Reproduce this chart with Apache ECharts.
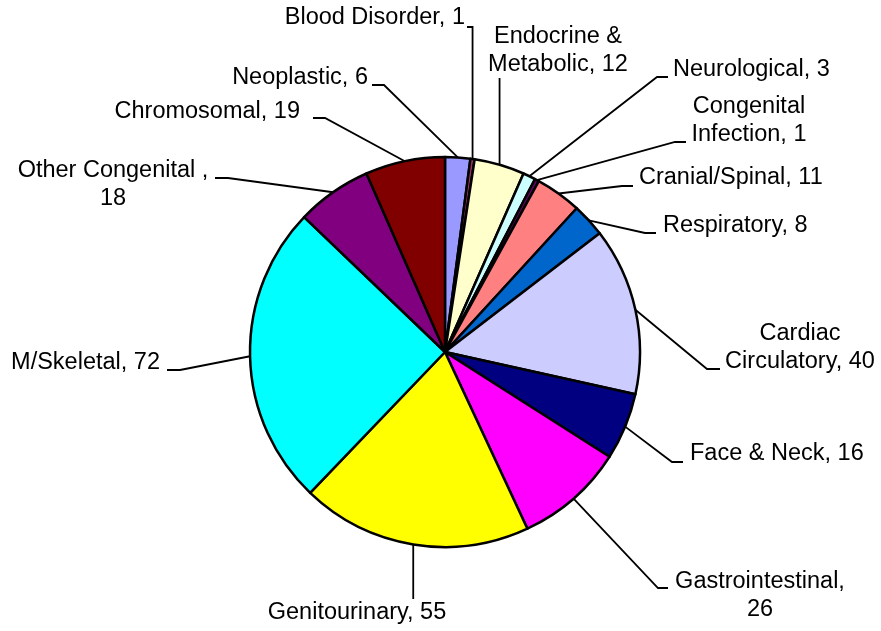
<!DOCTYPE html>
<html>
<head>
<meta charset="utf-8">
<script src="https://cdn.jsdelivr.net/npm/echarts@6/dist/echarts.min.js"></script>
<style>
  html, body { margin: 0; padding: 0; background: #fff; }
  #chart { width: 881px; height: 631px; }
</style>
</head>
<body>
<div id="chart"></div>
<script>
// data, clockwise from 12 o'clock
var categories = ["Neoplastic", "Blood Disorder", "Endocrine & Metabolic", "Neurological",
  "Congenital Infection", "Cranial/Spinal", "Respiratory", "Cardiac Circulatory",
  "Face & Neck", "Gastrointestinal", "Genitourinary", "M/Skeletal",
  "Other Congenital ", "Chromosomal"];
var counts = [6, 1, 12, 3, 1, 11, 8, 40, 16, 26, 55, 72, 18, 19];

var colors = ["#9999FF", "#993366", "#FFFFCC", "#CCFFFF", "#660066", "#FF8080", "#0066CC",
  "#CCCCFF", "#000080", "#FF00FF", "#FFFF00", "#00FFFF", "#800080", "#800000"];

// where each label sits, excel style (text anchor + leader line bends)
// a null x in a line point means "straight up/down from the slice edge"
var labelPos = [
  { x: 368, y: 78, align: "right", line: [[384, 85], [372, 85]] },
  { x: 465, y: 18, align: "right", line: [[null, 27], [467, 27]] },
  { x: 558, y: 51, align: "center", brk: "Endocrine & ", line: [[null, 78]] },
  { x: 673, y: 70, align: "left", line: [[657, 77], [668, 77]] },
  { x: 749, y: 121, align: "center", brk: "Congenital ", line: [[675, 142], [686, 142]] },
  { x: 639, y: 178, align: "left", line: [[622, 186], [633, 186]] },
  { x: 663, y: 226, align: "left", line: [[645, 233], [656, 233]] },
  { x: 800, y: 348, align: "center", brk: "Cardiac ", line: [[707, 369], [720, 369]] },
  { x: 690, y: 454, align: "left", line: [[672, 462], [683, 462]] },
  { x: 760, y: 596, align: "center", brk: "Gastrointestinal, ", line: [[658, 588], [668, 588]] },
  { x: 357, y: 613, align: "center", line: [[null, 599]] },
  { x: 160, y: 363, align: "right", line: [[180, 370], [167, 370]] },
  { x: 113, y: 185, align: "center", brk: "Other Congenital , ", line: [[228, 178], [215, 178]] },
  { x: 300, y: 112, align: "right", line: [[325, 118], [313, 118]] }
];

function labelText(i) {
  var full = categories[i] + ", " + counts[i];
  var brk = labelPos[i].brk;
  return brk ? full.replace(brk, brk.replace(/ $/, "") + "\n") : full;
}

var chart = echarts.init(document.getElementById("chart"));

chart.setOption({
  animation: false,
  color: colors,
  series: [{
    type: "pie",
    center: [445, 352],
    radius: 195,
    startAngle: 90,
    clockwise: true,
    avoidLabelOverlap: false,
    minAngle: 0,
    silent: true,
    itemStyle: {
      borderColor: "#000",
      borderWidth: 2.5
    },
    label: {
      show: true,
      position: "outside",
      color: "#000",
      fontFamily: "Liberation Sans, Arial, sans-serif",
      fontSize: 23.5,
      lineHeight: 28,
      formatter: function (p) { return labelText(p.dataIndex); }
    },
    labelLine: {
      show: true,
      length: 10,
      length2: 10,
      lineStyle: { color: "#000", width: 1.8 }
    },
    labelLayout: function (p) {
      var lay = labelPos[p.dataIndex];
      var start = p.labelLinePoints[0];
      var pts = [start.slice()];
      lay.line.forEach(function (pt) {
        pts.push([pt[0] == null ? start[0] : pt[0], pt[1]]);
      });
      return {
        x: lay.x,
        y: lay.y,
        align: lay.align,
        verticalAlign: "middle",
        labelLinePoints: pts
      };
    },
    emphasis: { disabled: true },
    data: categories.map(function (c, i) {
      return { name: c, value: counts[i] };
    })
  }]
});
</script>
</body>
</html>
